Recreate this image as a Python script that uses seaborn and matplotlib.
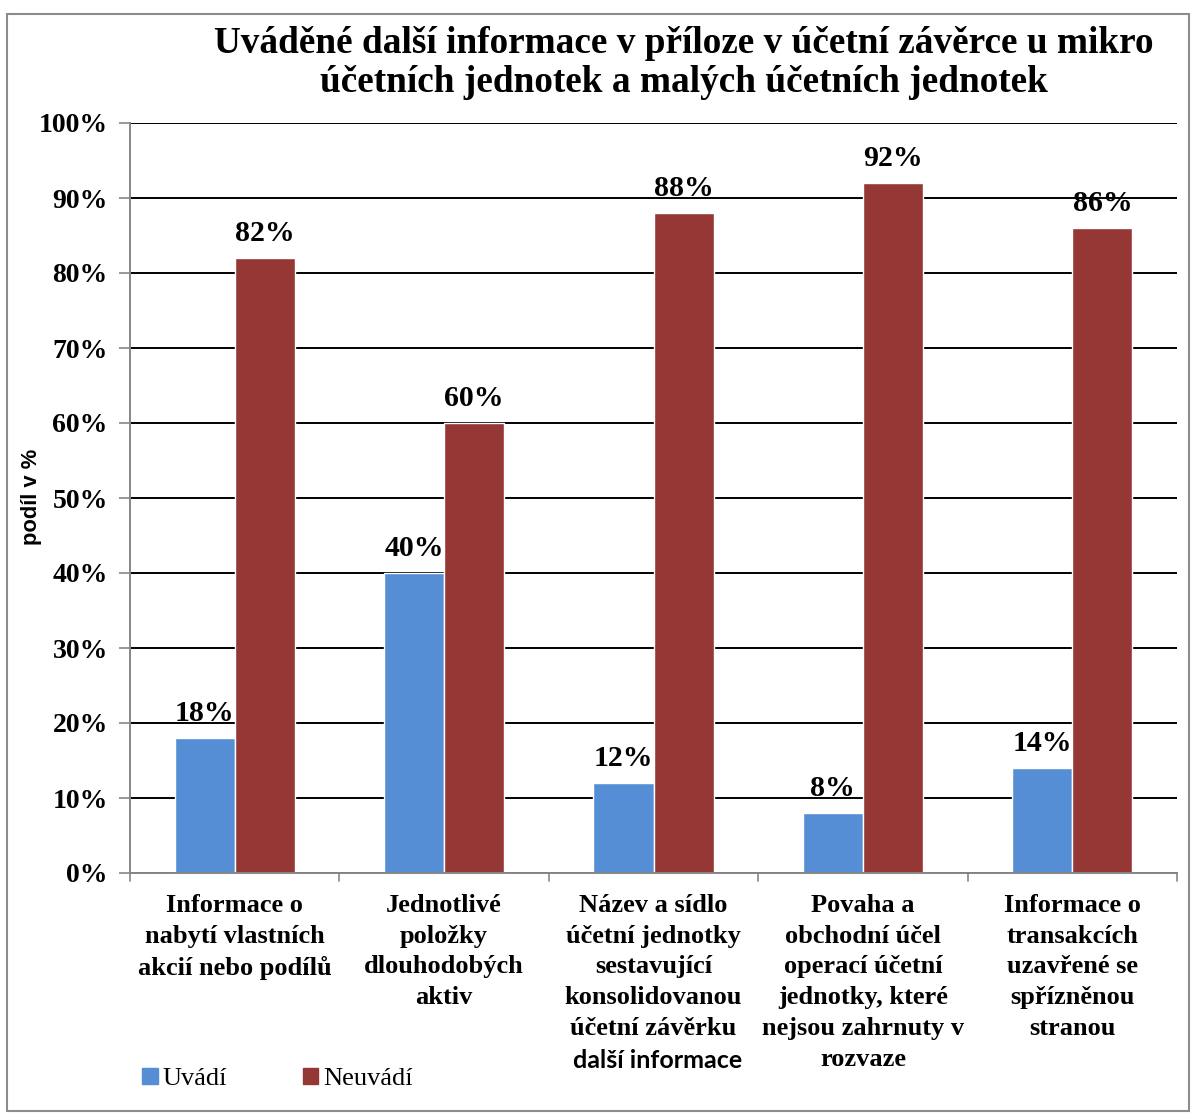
import matplotlib
matplotlib.use("Agg")
import matplotlib.pyplot as plt
import seaborn as sns
import pandas as pd
from matplotlib.patches import Rectangle

categories = [
    "Informace o\nnabytí vlastních\nakcií nebo podílů",
    "Jednotlivé\npoložky\ndlouhodobých\naktiv",
    "Název a sídlo\núčetní jednotky\nsestavující\nkonsolidovanou\núčetní závěrku",
    "Povaha a\nobchodní účel\noperací účetní\njednotky, které\nnejsou zahrnuty v\nrozvaze",
    "Informace o\ntransakcích\nuzavřené se\nspřízněnou\nstranou",
]
series_names = ["Uvádí", "Neuvádí"]
uvadi = [18, 40, 12, 8, 14]
neuvadi = [82, 60, 88, 92, 86]
y_ticks = [0, 10, 20, 30, 40, 50, 60, 70, 80, 90, 100]

title = "Uváděné další informace v příloze v účetní závěrce u mikro\núčetních jednotek a malých účetních jednotek"
y_label = "podíl v %"
x_label = "další informace"

colors = ["#558ED5", "#953735"]

df = pd.DataFrame({
    "kat": categories * 2,
    "serie": [series_names[0]] * len(categories) + [series_names[1]] * len(categories),
    "hodnota": uvadi + neuvadi,
})

sns.set_theme(style="white")
plt.rcParams["font.family"] = ["Liberation Serif", "DejaVu Serif"]
plt.rcParams["text.color"] = "black"
plt.rcParams["xtick.color"] = "black"
plt.rcParams["ytick.color"] = "black"

fig = plt.figure(figsize=(11.92, 11.13), dpi=100)
ax = fig.add_axes([130 / 1192, 1 - 873 / 1113, (1177 - 130) / 1192, (873 - 123) / 1113])

sns.barplot(data=df, x="kat", y="hodnota", hue="serie", palette=colors,
            width=0.574, gap=0, ax=ax, legend=False, saturation=1, errorbar=None)

ax.set_ylim(0, 100)
ax.set_xlim(-0.5, len(categories) - 0.5)
ax.set_yticks(y_ticks)
ax.set_yticklabels([f"{t}%" for t in y_ticks], fontsize=20, fontweight="bold",
                   family=["Liberation Serif"])
ax.set_xticks(range(len(categories)))
ax.set_xticklabels(categories, fontsize=19, fontweight="bold",
                   family=["Liberation Serif"], linespacing=1.43, va="top")
ax.tick_params(axis="x", length=0, pad=15)
ax.tick_params(axis="y", length=8, width=1.2, color="#868686", pad=8, left=True)

# category boundary ticks on x axis
for b in [i - 0.5 for i in range(len(categories) + 1)]:
    ax.plot([b, b], [0, -1.1], color="#868686", lw=1.2, clip_on=False)

ax.grid(axis="y", color="black", lw=1.4)
ax.grid(axis="x", visible=False)
ax.set_axisbelow(True)
for s in ["top", "right"]:
    ax.spines[s].set_visible(False)
for s in ["left", "bottom"]:
    ax.spines[s].set_color("#868686")
    ax.spines[s].set_linewidth(1.4)
ax.set_xlabel("")
ax.set_ylabel("")

for cont in ax.containers:
    ax.bar_label(cont, labels=[f"{v:.0f}%" for v in cont.datavalues], padding=8,
                 fontsize=21.5, fontweight="bold", family=["Liberation Serif"])

fig.text(684 / 1192, 1 - 63 / 1113, title, ha="center", va="center", fontsize=26.8,
         fontweight="bold", family=["Liberation Serif"], linespacing=1.13)
fig.text(32 / 1192, 1 - 497 / 1113, y_label, rotation=90, ha="center", va="center",
         fontsize=15.8, fontweight="bold", family=["Liberation Sans"])
fig.text(658 / 1192, 1 - 1061 / 1113, x_label, ha="center", va="center",
         fontsize=18, fontweight="bold", family=["Lato", "DejaVu Sans"])

handles = [Rectangle((0, 0), 1, 1, color=c) for c in colors]
fig.legend(handles, series_names, loc="center left", bbox_to_anchor=(118 / 1192, 1 - 1079 / 1113),
           ncol=2, frameon=False, prop={"family": "Liberation Serif", "size": 19},
           handlelength=0.6, handleheight=0.6, handletextpad=0.2, columnspacing=2.85)

fig.patches.append(Rectangle((7 / 1192, 2 / 1113), 1182 / 1192, 1097 / 1113,
                             transform=fig.transFigure, fill=False, edgecolor="#8c8c8c", lw=1.5))

fig.savefig("out.png", dpi=100)
